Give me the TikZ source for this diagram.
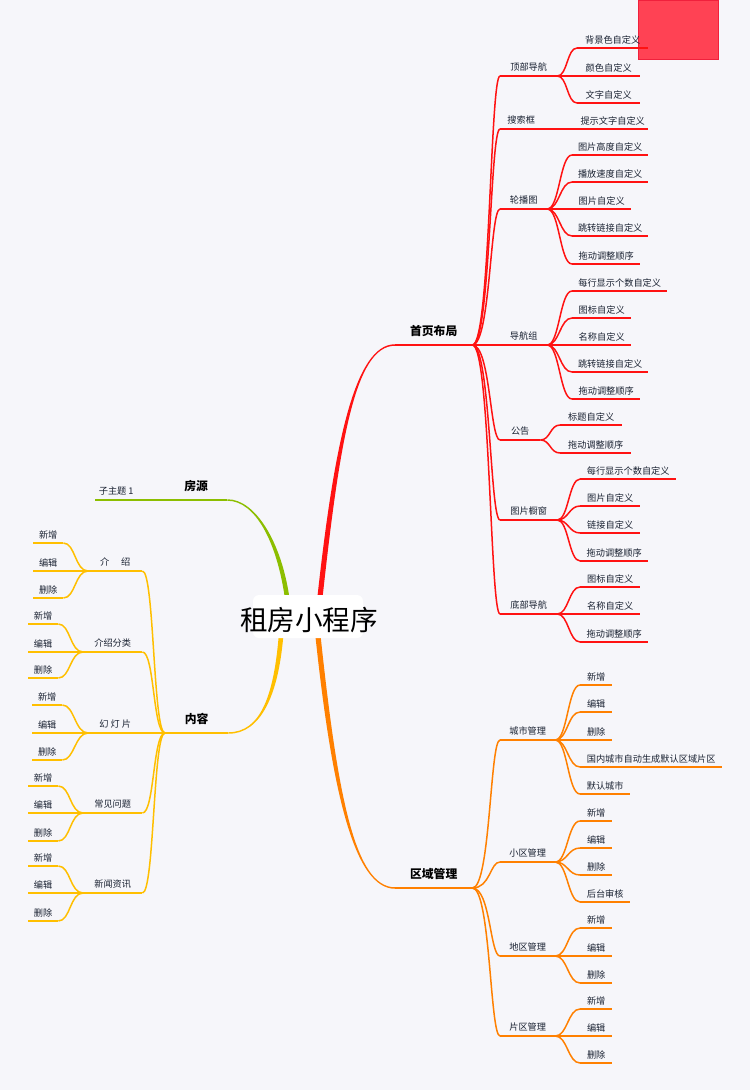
\documentclass[tikz,border=0pt]{standalone}
\usepackage{fontspec}
\setmainfont{Noto Sans CJK SC}
\usetikzlibrary{calc}
\definecolor{bgc}{HTML}{F6F6FA}
\definecolor{cR}{HTML}{FF1212}
\definecolor{cO}{HTML}{FF8000}
\definecolor{cY}{HTML}{FFBF00}
\definecolor{cG}{HTML}{8CBE00}
\definecolor{txt}{HTML}{1A2232}
\definecolor{sqf}{HTML}{FF4254}
\definecolor{sqd}{HTML}{F0203C}
\tikzset{
 leaf/.style={anchor=south west, inner xsep=0pt, inner ysep=4.5pt, text depth=0pt, font=\fontsize{9.2}{10}\selectfont, text=txt},
 sub/.style={leaf, inner ysep=5.5pt},
 mainT/.style={anchor=south west, inner xsep=0pt, inner ysep=9pt, text depth=0pt, font=\fontsize{11.8}{13}\selectfont\bfseries, text=black},
 uline/.style={line width=1.5pt},
 conn/.style={line width=1.5pt},
}
\newcommand\tp[7]{\node[#6, minimum width={(#3-#2)*1pt}] (#1) at (#2,#4) {#7};\draw[#5, uline] (#1.south west) -- (#1.south east);}
\newcommand\conr[5]{\draw[#1, conn] (#2.south east) .. controls +(#4,0) and +(-#5,0) .. (#3.south west);}
\newcommand\conl[5]{\draw[#1, conn] (#2.south west) .. controls +(-#4,0) and +(#5,0) .. (#3.south east);}
\begin{document}
\begin{tikzpicture}[x=1pt,y=-1pt]
\useasboundingbox (0,0) rectangle (750,1090);
\fill[bgc] (0,0) rectangle (750,1090);
\draw[sqd, fill=sqf, line width=0.8pt] (638,0) rectangle (718,59);

% ---------- red branch ----------
\tp{sy}{395}{472}{345}{cR}{mainT}{首页布局}
\tp{top}{500}{557}{76}{cR}{sub}{顶部导航}
\tp{top1}{577}{648}{48}{cR}{leaf}{背景色自定义}
\tp{top2}{577}{640}{76}{cR}{leaf}{颜色自定义}
\tp{top3}{577}{640}{103}{cR}{leaf}{文字自定义}
\tp{ssk}{500}{542}{129}{cR}{sub}{搜索框}
\tp{ssk1}{577}{648}{129}{cR}{leaf}{提示文字自定义}
\tp{lbt}{500}{547}{209}{cR}{sub}{轮播图}
\tp{lbt1}{572}{648}{155}{cR}{leaf}{图片高度自定义}
\tp{lbt2}{572}{648}{182}{cR}{leaf}{播放速度自定义}
\tp{lbt3}{572}{631}{209}{cR}{leaf}{图片自定义}
\tp{lbt4}{572}{648}{236}{cR}{leaf}{跳转链接自定义}
\tp{lbt5}{572}{640}{264}{cR}{leaf}{拖动调整顺序}
\tp{dhz}{500}{547}{345}{cR}{sub}{导航组}
\tp{dhz1}{572}{667}{291}{cR}{leaf}{每行显示个数自定义}
\tp{dhz2}{572}{631}{318}{cR}{leaf}{图标自定义}
\tp{dhz3}{572}{631}{345}{cR}{leaf}{名称自定义}
\tp{dhz4}{572}{648}{372}{cR}{leaf}{跳转链接自定义}
\tp{dhz5}{572}{640}{399}{cR}{leaf}{拖动调整顺序}
\tp{gg}{500}{540}{440}{cR}{sub}{公告}
\tp{gg1}{560}{622}{425}{cR}{leaf}{标题自定义}
\tp{gg2}{560}{631}{453}{cR}{leaf}{拖动调整顺序}
\tp{tpcc}{500}{557}{520}{cR}{sub}{图片橱窗}
\tp{tpcc1}{580}{676}{479}{cR}{leaf}{每行显示个数自定义}
\tp{tpcc2}{580}{640}{506}{cR}{leaf}{图片自定义}
\tp{tpcc3}{580}{640}{533}{cR}{leaf}{链接自定义}
\tp{tpcc4}{580}{648}{561}{cR}{leaf}{拖动调整顺序}
\tp{bot}{500}{557}{614}{cR}{sub}{底部导航}
\tp{bot1}{580}{640}{587}{cR}{leaf}{图标自定义}
\tp{bot2}{580}{640}{614}{cR}{leaf}{名称自定义}
\tp{bot3}{580}{648}{642}{cR}{leaf}{拖动调整顺序}

\foreach \c in {top,ssk,lbt,dhz,gg,tpcc,bot} {\conr{cR}{sy}{\c}{18}{10}}
\foreach \c in {top1,top2,top3} {\conr{cR}{top}{\c}{10}{10}}
\conr{cR}{ssk}{ssk1}{10}{10}
\foreach \c in {lbt1,lbt2,lbt3,lbt4,lbt5} {\conr{cR}{lbt}{\c}{12}{12}}
\foreach \c in {dhz1,dhz2,dhz3,dhz4,dhz5} {\conr{cR}{dhz}{\c}{12}{12}}
\foreach \c in {gg1,gg2} {\conr{cR}{gg}{\c}{10}{10}}
\foreach \c in {tpcc1,tpcc2,tpcc3,tpcc4} {\conr{cR}{tpcc}{\c}{11}{11}}
\foreach \c in {bot1,bot2,bot3} {\conr{cR}{bot}{\c}{11}{11}}

% ---------- orange branch ----------
\tp{qy}{395}{472}{888}{cO}{mainT}{区域管理}
\tp{cs}{500}{555}{740}{cO}{sub}{城市管理}
\tp{cs1}{580}{612}{685}{cO}{leaf}{新增}
\tp{cs2}{580}{612}{712}{cO}{leaf}{编辑}
\tp{cs3}{580}{612}{740}{cO}{leaf}{删除}
\tp{cs4}{580}{722}{767}{cO}{leaf}{国内城市自动生成默认区域片区}
\tp{cs5}{580}{630}{794}{cO}{leaf}{默认城市}
\tp{xq}{500}{555}{862}{cO}{sub}{小区管理}
\tp{xq1}{580}{612}{821}{cO}{leaf}{新增}
\tp{xq2}{580}{612}{848}{cO}{leaf}{编辑}
\tp{xq3}{580}{612}{875}{cO}{leaf}{删除}
\tp{xq4}{580}{630}{902}{cO}{leaf}{后台审核}
\tp{dq}{500}{555}{956}{cO}{sub}{地区管理}
\tp{dq1}{580}{612}{928}{cO}{leaf}{新增}
\tp{dq2}{580}{612}{956}{cO}{leaf}{编辑}
\tp{dq3}{580}{612}{983}{cO}{leaf}{删除}
\tp{pq}{500}{555}{1036}{cO}{sub}{片区管理}
\tp{pq1}{580}{612}{1009}{cO}{leaf}{新增}
\tp{pq2}{580}{612}{1036}{cO}{leaf}{编辑}
\tp{pq3}{580}{612}{1063}{cO}{leaf}{删除}

\foreach \c in {cs,xq,dq,pq} {\conr{cO}{qy}{\c}{18}{10}}
\foreach \c in {cs1,cs2,cs3,cs4,cs5} {\conr{cO}{cs}{\c}{12}{12}}
\foreach \c in {xq1,xq2,xq3,xq4} {\conr{cO}{xq}{\c}{12}{12}}
\foreach \c in {dq1,dq2,dq3} {\conr{cO}{dq}{\c}{12}{12}}
\foreach \c in {pq1,pq2,pq3} {\conr{cO}{pq}{\c}{12}{12}}

% ---------- green branch ----------
\tp{fy}{165}{227}{500}{cG}{mainT}{房源}
\tp{zzt}{95}{137}{500}{cG}{sub}{子主题 1}
\conl{cG}{fy}{zzt}{10}{10}

% ---------- yellow branch ----------
\tp{nr}{165}{228}{733}{cY}{mainT}{内容}
\tp{js}{88}{142}{571}{cY}{sub}{介\hspace{1.3em}绍}
\tp{js1}{33}{63}{543}{cY}{leaf}{新增}
\tp{js2}{33}{63}{571}{cY}{leaf}{编辑}
\tp{js3}{33}{63}{598}{cY}{leaf}{删除}
\tp{jsfl}{83}{142}{652}{cY}{sub}{介绍分类}
\tp{jsfl1}{28}{58}{624}{cY}{leaf}{新增}
\tp{jsfl2}{28}{58}{652}{cY}{leaf}{编辑}
\tp{jsfl3}{28}{58}{678}{cY}{leaf}{删除}
\tp{hdp}{88}{142}{733}{cY}{sub}{幻 灯 片}
\tp{hdp1}{32}{62}{705}{cY}{leaf}{新增}
\tp{hdp2}{32}{62}{733}{cY}{leaf}{编辑}
\tp{hdp3}{32}{62}{760}{cY}{leaf}{删除}
\tp{cj}{83}{142}{813}{cY}{sub}{常见问题}
\tp{cj1}{28}{58}{786}{cY}{leaf}{新增}
\tp{cj2}{28}{58}{813}{cY}{leaf}{编辑}
\tp{cj3}{28}{58}{841}{cY}{leaf}{删除}
\tp{xw}{83}{142}{893}{cY}{sub}{新闻资讯}
\tp{xw1}{28}{58}{866}{cY}{leaf}{新增}
\tp{xw2}{28}{58}{893}{cY}{leaf}{编辑}
\tp{xw3}{28}{58}{921}{cY}{leaf}{删除}

\foreach \c in {js,jsfl,hdp,cj,xw} {\conl{cY}{nr}{\c}{12}{12}}
\foreach \c in {js1,js2,js3} {\conl{cY}{js}{\c}{13}{12}}
\foreach \c in {jsfl1,jsfl2,jsfl3} {\conl{cY}{jsfl}{\c}{13}{12}}
\foreach \c in {hdp1,hdp2,hdp3} {\conl{cY}{hdp}{\c}{13}{12}}
\foreach \c in {cj1,cj2,cj3} {\conl{cY}{cj}{\c}{13}{12}}
\foreach \c in {xw1,xw2,xw3} {\conl{cY}{xw}{\c}{13}{12}}

% ---------- main tapered connectors ----------
\coordinate (sR) at (320,597);
\coordinate (sG) at (287,597);
\coordinate (sO) at (318,636);
\coordinate (sY) at (281,636);
\fill[cR] ($(sR)+(-2.6,0)$) .. controls ($(sR)+(14.4,-155)$) and ($(sy.south west)+(-40,-0.75)$) .. ($(sy.south west)+(0,-0.75)$) -- ($(sy.south west)+(0,0.75)$) .. controls ($(sy.south west)+(-40,0.75)$) and ($(sR)+(19.6,-155)$) .. ($(sR)+(2.6,0)$) -- cycle;
\fill[cG] ($(sG)+(2.3,0)$) .. controls ($(sG)+(-5.7,-55)$) and ($(fy.south east)+(28,-0.75)$) .. ($(fy.south east)+(0,-0.75)$) -- ($(fy.south east)+(0,0.75)$) .. controls ($(fy.south east)+(28,0.75)$) and ($(sG)+(-10.3,-55)$) .. ($(sG)+(-2.3,0)$) -- cycle;
\fill[cO] ($(sO)+(-2.6,0)$) .. controls ($(sO)+(14.4,160)$) and ($(qy.south west)+(-40,0.75)$) .. ($(qy.south west)+(0,0.75)$) -- ($(qy.south west)+(0,-0.75)$) .. controls ($(qy.south west)+(-40,-0.75)$) and ($(sO)+(19.6,160)$) .. ($(sO)+(2.6,0)$) -- cycle;
\fill[cY] ($(sY)+(2.3,0)$) .. controls ($(sY)+(-2.7,60)$) and ($(nr.south east)+(32,0.75)$) .. ($(nr.south east)+(0,0.75)$) -- ($(nr.south east)+(0,-0.75)$) .. controls ($(nr.south east)+(32,-0.75)$) and ($(sY)+(-7.3,60)$) .. ($(sY)+(-2.3,0)$) -- cycle;

% ---------- root ----------
\fill[white, rounded corners=6pt] (253,595) rectangle (363,638);
\node[font=\fontsize{27.6}{30}\selectfont, text=black, inner sep=0pt] (root) at (309,620) {租房小程序};
\end{tikzpicture}
\end{document}
